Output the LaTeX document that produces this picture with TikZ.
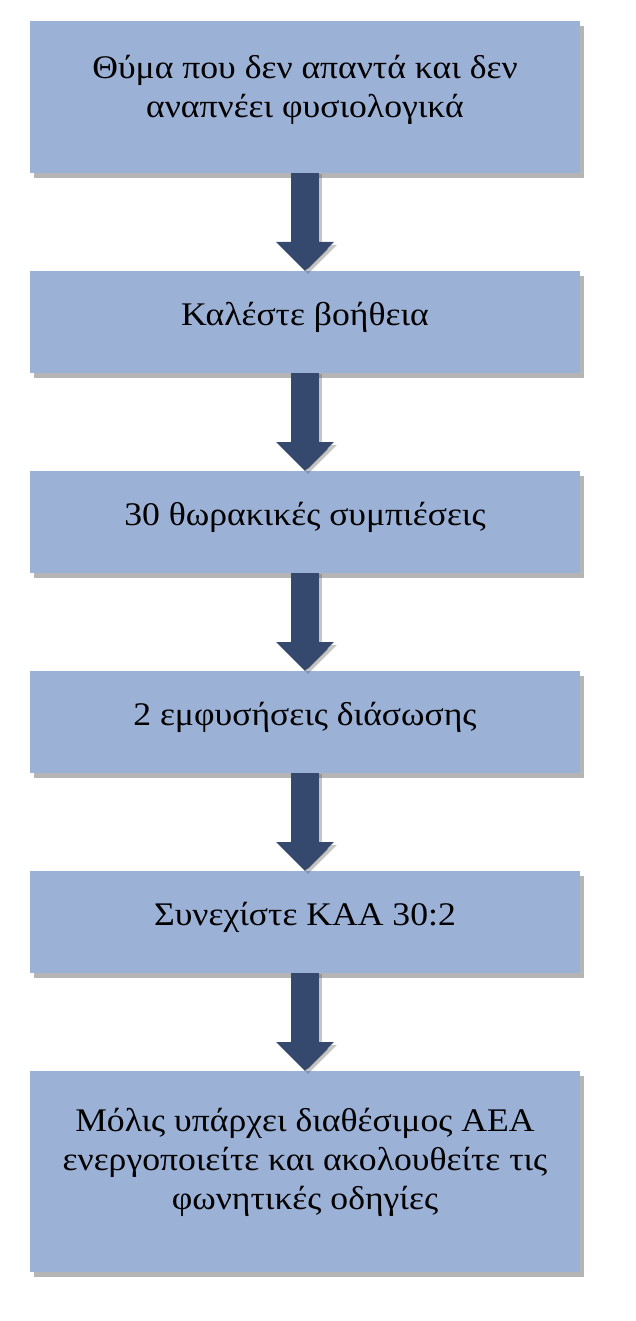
\documentclass[tikz,border=0pt]{standalone}
\usepackage{fontspec}
\setmainfont{Liberation Serif}[FakeStretch=1.08]
\usetikzlibrary{arrows.meta}
\definecolor{boxfill}{RGB}{155,177,214}
\definecolor{arrowcol}{RGB}{53,73,110}
\definecolor{shadowcol}{RGB}{90,90,90}
\tikzset{
  box/.style={rectangle, fill=boxfill, minimum width=550pt, inner sep=0pt, outer sep=0pt},
  boxshadow/.style={rectangle, fill=shadowcol, fill opacity=0.45, minimum width=550pt, inner sep=0pt},
  txt/.style={align=center, font=\fontsize{33}{39}\selectfont, text=black, inner sep=0pt},
  flowarrow/.style={line width=28pt, draw=arrowcol, -{Triangle[width=56pt,length=29pt]}},
  arrowshadow/.style={line width=28pt, draw=shadowcol, draw opacity=0.35, -{Triangle[width=56pt,length=29pt]}},
}
\newcommand{\flowbox}[5]{% name, y, height, text, text shift
  \node[boxshadow, minimum height=#3] (#1s) at (309,#2+5) {};
  \node[box, minimum height=#3] (#1) at (305,#2) {};
  \node[txt] (#1t) at ([yshift=#5]#1.center) {#4};
}
\begin{document}
\begin{tikzpicture}[x=1pt,y=-1pt]
\useasboundingbox (0,0) rectangle (635,1321);
\flowbox{b1}{97}{152pt}{Θύμα που δεν απαντά και δεν\\αναπνέει φυσιολογικά}{7pt}
\flowbox{b2}{322}{102pt}{Καλέστε βοήθεια}{5pt}
\flowbox{b3}{522}{102pt}{30 θωρακικές συμπιέσεις}{5pt}
\flowbox{b4}{722}{102pt}{2 εμφυσήσεις διάσωσης}{5pt}
\flowbox{b5}{922}{102pt}{Συνεχίστε ΚΑΑ 30:2}{5pt}
\flowbox{b6}{1171.5}{201pt}{Μόλις υπάρχει διαθέσιμος ΑΕΑ\\ενεργοποιείτε και ακολουθείτε τις\\φωνητικές οδηγίες}{9pt}
\foreach \a/\b in {b1/b2,b2/b3,b3/b4,b4/b5,b5/b6}{
  \draw[arrowshadow] ([xshift=3pt,yshift=-1pt]\a.south) -- ([xshift=3pt,yshift=-3pt]\b.north);
  \draw[flowarrow] (\a.south) -- (\b.north);
}
\end{tikzpicture}
\end{document}
